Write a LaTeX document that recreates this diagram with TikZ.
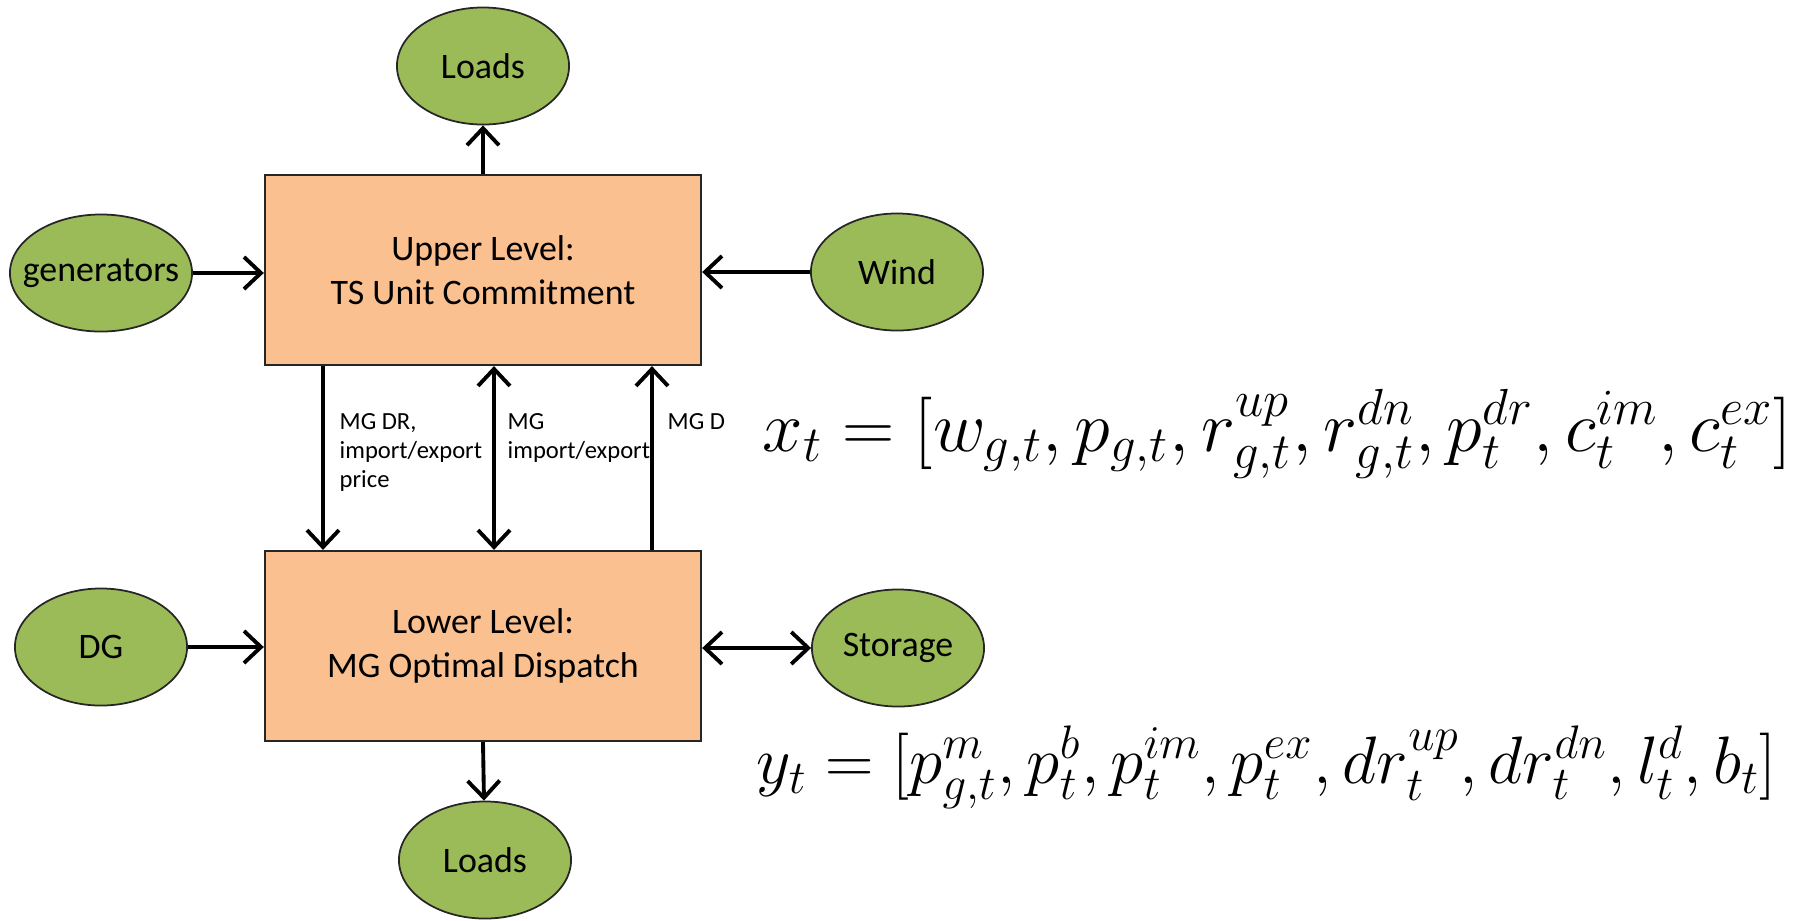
\RequirePackage{fix-cm}
\documentclass[tikz,border=0pt]{standalone}
\usepackage{amsmath}
\usepackage{fontspec}
\setmainfont{Carlito}
\usepackage{tikz}
\usetikzlibrary{arrows.meta,positioning,calc,shapes.geometric}
\definecolor{leafgreen}{HTML}{9BBB59}
\definecolor{boxorange}{HTML}{FAC090}
\tikzset{
  levelbox/.style={draw=black!85, line width=0.6pt, fill=boxorange, minimum width=4.36cm,
    minimum height=1.9cm, align=center, font=\fontsize{10.2}{12.4}\selectfont},
  unitell/.style={ellipse, draw=black!85, line width=0.5pt, fill=leafgreen, minimum width=1.72cm,
    minimum height=1.17cm, inner sep=0pt, font=\fontsize{10.2}{12.4}\selectfont},
  flow/.style={-{Straight Barb[length=1.7mm,width=3.2mm]}, line width=1.1pt},
  dflow/.style={{Straight Barb[length=1.7mm,width=3.2mm]}-{Straight Barb[length=1.7mm,width=3.2mm]}, line width=1.1pt},
  tag/.style={anchor=north west, inner sep=0pt, align=left, font=\fontsize{7}{8.2}\selectfont},
  eqn/.style={anchor=base west, inner sep=0pt},
}

\begin{document}
\begin{tikzpicture}[x=0.01cm, y=-0.01cm]
  \useasboundingbox (0,0) rectangle (1796,920);
  % two levels
  \node[levelbox] (upper) at (483,270) {Upper Level:\\TS Unit Commitment};
  \node[levelbox] (lower) at (483,646) {Lower Level:\\MG Optimal Dispatch};
  % units around them
  \node[unitell] (loadsT) at (483,66) {Loads};
  \node[unitell, minimum width=1.82cm] (gen) at (101,273) {\makebox[0pt]{generators}};
  \node[unitell] (wind) at (897,272) {Wind};
  \node[unitell] (dg) at (101,647) {DG};
  \node[unitell] (stor) at (898,648) {\makebox[0pt]{Storage}};
  \node[unitell] (loadsB) at (485,860) {Loads};
  \draw[flow] (upper) -- (loadsT);
  \draw[flow] (gen.east) -- (gen.east -| upper.west);
  \draw[flow] (wind.west) -- (wind.west -| upper.east);
  \draw[flow] (dg.east) -- (dg.east -| lower.west);
  \draw[dflow] (lower.east |- stor.west) -- (stor.west);
  \draw[flow] (lower.south) -- (loadsB);
  % exchange between levels
  \coordinate (c1) at (323,0);
  \coordinate (c2) at (494,0);
  \coordinate (c3) at (652,0);
  \draw[flow] (upper.south -| c1) -- (lower.north -| c1);
  \draw[dflow] (upper.south -| c2) -- (lower.north -| c2);
  \draw[flow] (lower.north -| c3) -- (upper.south -| c3);
  \node[tag] (t1) at (339,413) {MG DR,\\import/export\\price};
  \node[tag] (t2) at (507,413) {MG\\import/export};
  \node[tag] (t3) at (667,413) {MG D};
  % variables
  \node[eqn, font=\fontsize{20.6}{24}\selectfont] (xvec) at (762,451) {$x_t = [w_{g,t}, p_{g,t}, r^{up}_{g,t}, r^{dn}_{g,t}, p^{dr}_t, c^{im}_t, c^{ex}_t]$};
  \node[eqn, font=\fontsize{19.1}{22}\selectfont] (yvec) at (756,783) {$y_t = [p^m_{g,t}, p^b_t, p^{im}_t, p^{ex}_t, dr^{up}_t, dr^{dn}_t, l^d_t, b_t]$};
\end{tikzpicture}
\end{document}
